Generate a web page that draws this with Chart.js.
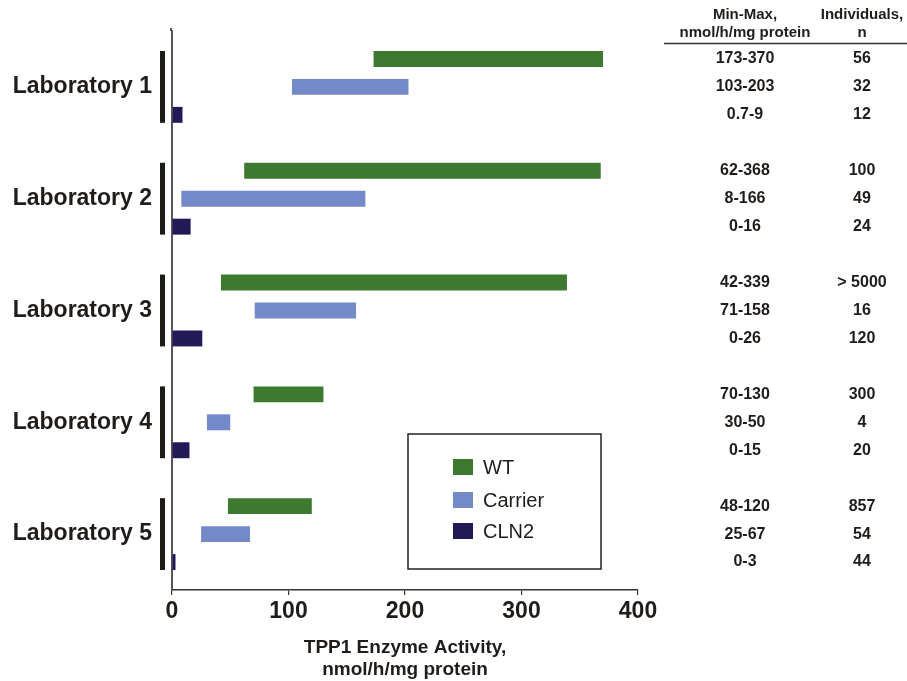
<!DOCTYPE html>
<html>
<head>
<meta charset="utf-8">
<script src="https://cdn.jsdelivr.net/npm/chart.js@4.4.1/dist/chart.umd.min.js"></script>
<style>
  html, body { margin: 0; padding: 0; background: #fff; }
  #wrap { width: 907px; height: 681px; position: relative; }
</style>
</head>
<body>
<div id="wrap"><canvas id="chart" width="907" height="681"></canvas></div>
<script>
// TPP1 enzyme activity ranges per laboratory (min-max, nmol/h/mg protein)
const labs = ['Laboratory 1', 'Laboratory 2', 'Laboratory 3', 'Laboratory 4', 'Laboratory 5'];

const wtRange = [[173, 370], [62, 368], [42, 339], [70, 130], [48, 120]];
const carrierRange = [[103, 203], [8, 166], [71, 158], [30, 50], [25, 67]];
const cln2Range = [[0.7, 9], [0, 16], [0, 26], [0, 15], [0, 3]];

// individuals, n
const wtN = ['56', '100', '> 5000', '300', '857'];
const carrierN = ['32', '49', '16', '4', '54'];
const cln2N = ['12', '24', '120', '20', '44'];

const xTicks = [0, 100, 200, 300, 400];

const FONT = '"Liberation Sans", Arial, Helvetica, sans-serif';
const INK = '#1f1c1a';

// draws the black brackets, the right-hand table and the boxed legend
const extras = {
  id: 'extras',
  afterDraw(chart) {
    const ctx = chart.ctx;
    const area = chart.chartArea;
    const metas = [0, 1, 2].map(i => chart.getDatasetMeta(i));
    const counts = [wtN, carrierN, cln2N];

    ctx.save();

    // small extension of the y axis above the plot
    ctx.strokeStyle = '#555';
    ctx.lineWidth = 2;
    ctx.beginPath();
    ctx.moveTo(area.left - 1, area.top - 3);
    ctx.lineTo(area.left - 1, area.top);
    ctx.stroke();

    // brackets beside each laboratory
    ctx.fillStyle = '#1e1a16';
    labs.forEach((lab, i) => {
      const top = metas[0].data[i].getProps(['y', 'height'], true);
      const bot = metas[2].data[i].getProps(['y', 'height'], true);
      const y0 = top.y - top.height / 2;
      const y1 = bot.y + bot.height / 2;
      ctx.fillRect(area.left - 12, y0, 5, y1 - y0);
    });

    // table header
    const colRange = 745;
    const colN = 862;
    ctx.fillStyle = INK;
    ctx.textAlign = 'center';
    ctx.textBaseline = 'middle';
    ctx.font = 'bold 15px ' + FONT;
    ctx.fillText('Min-Max,', colRange, 15);
    ctx.fillText('nmol/h/mg protein', colRange, 33);
    ctx.fillText('Individuals,', colN, 15);
    ctx.fillText('n', colN, 33);
    ctx.strokeStyle = '#333';
    ctx.lineWidth = 1.5;
    ctx.beginPath();
    ctx.moveTo(664, 43.5);
    ctx.lineTo(907, 43.5);
    ctx.stroke();

    // table rows, aligned with the bars
    ctx.font = 'bold 16px ' + FONT;
    chart.data.datasets.forEach((ds, d) => {
      ds.data.forEach((r, i) => {
        const y = metas[d].data[i].getProps(['y'], true).y;
        ctx.fillText(r[0] + '-' + r[1], colRange, y);
        ctx.fillText(counts[d][i], colN, y);
      });
    });

    // legend box
    const bx = 408, by = 434, bw = 193, bh = 135;
    ctx.strokeStyle = '#222';
    ctx.lineWidth = 1.5;
    ctx.strokeRect(bx, by, bw, bh);
    ctx.textAlign = 'left';
    ctx.font = '20px ' + FONT;
    const rowY = [467, 500, 531];
    chart.data.datasets.forEach((ds, d) => {
      ctx.fillStyle = ds.backgroundColor;
      ctx.fillRect(453, rowY[d] - 8, 20, 16);
      ctx.fillStyle = INK;
      ctx.fillText(ds.label, 483, rowY[d] + 1);
    });

    ctx.restore();
  }
};

new Chart(document.getElementById('chart'), {
  type: 'bar',
  data: {
    labels: labs,
    datasets: [
      { label: 'WT', data: wtRange, backgroundColor: '#3d7a2f' },
      { label: 'Carrier', data: carrierRange, backgroundColor: '#7489c7' },
      { label: 'CLN2', data: cln2Range, backgroundColor: '#211a57' }
    ]
  },
  options: {
    indexAxis: 'y',
    responsive: false,
    animation: false,
    categoryPercentage: 0.75,
    barPercentage: 0.57,
    layout: { padding: { top: 31, right: 269, bottom: 0, left: 0 } },
    plugins: {
      legend: { display: false },
      tooltip: { enabled: false }
    },
    scales: {
      x: {
        type: 'linear',
        min: 0,
        max: 400,
        afterBuildTicks: s => { s.ticks = xTicks.map(v => ({ value: v })); },
        afterFit: s => { s.height = 91; },
        grid: { display: true, drawOnChartArea: false, drawTicks: true, tickLength: 5, color: '#333', lineWidth: 1.2 },
        border: { display: true, color: '#333', width: 1.5 },
        ticks: { color: INK, padding: 4, font: { family: FONT, size: 23, weight: 'bold', lineHeight: 1.1 } },
        title: {
          display: true,
          text: ['TPP1 Enzyme Activity,', 'nmol/h/mg protein'],
          color: INK,
          padding: { top: 13, bottom: 0 },
          font: { family: FONT, size: 19, weight: 'bold', lineHeight: 1.15 }
        }
      },
      y: {
        afterFit: s => { s.width = 172; s.paddingTop = 0; s.paddingBottom = 0; },
        grid: { display: false, drawTicks: false },
        border: { display: true, color: '#555', width: 2 },
        ticks: { color: INK, padding: 20, font: { family: FONT, size: 23, weight: 'bold' } }
      }
    }
  },
  plugins: [extras]
});
</script>
</body>
</html>
